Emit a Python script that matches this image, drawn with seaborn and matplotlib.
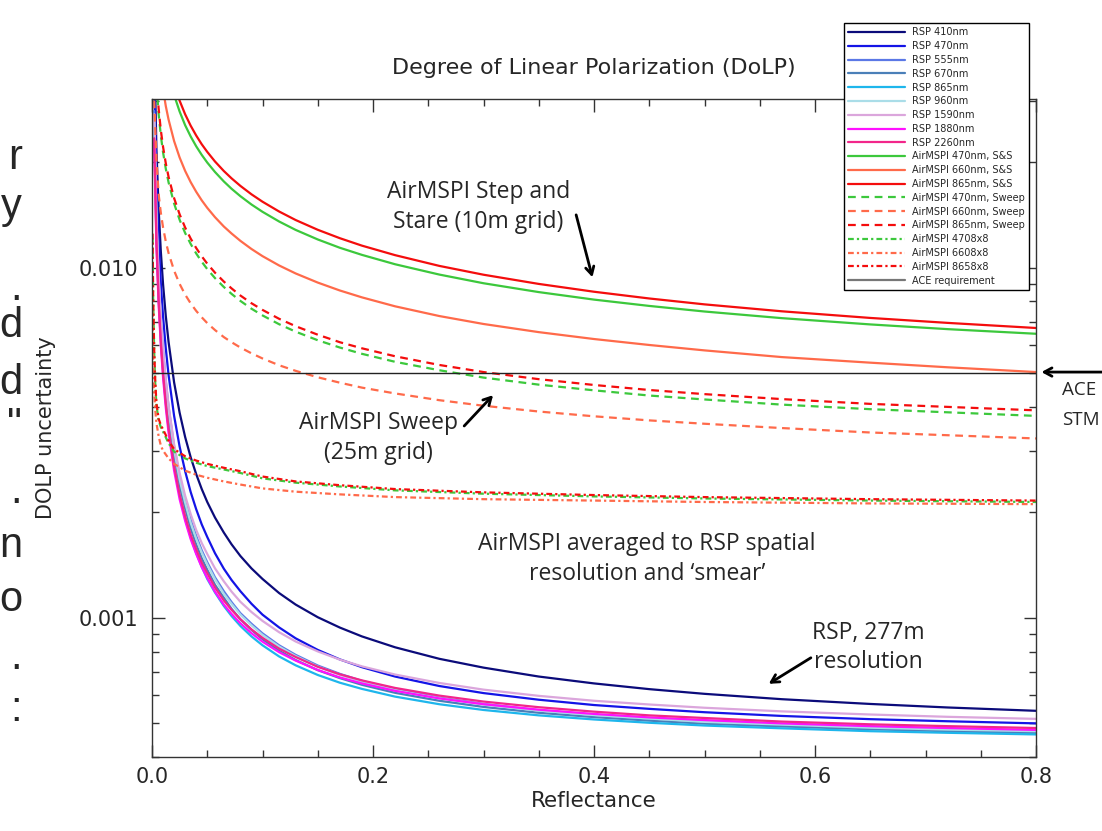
import matplotlib
matplotlib.use("Agg")
import matplotlib.pyplot as plt
import pandas as pd
import seaborn as sns
from matplotlib.ticker import LogLocator, MultipleLocator, NullFormatter

# %% data
# reflectance grid shared by the RSP and the single-pixel AirMSPI curves
reflectance = [0.002, 0.004, 0.006, 0.008, 0.01, 0.0125, 0.015, 0.02, 0.025, 0.03,
               0.035, 0.04, 0.045, 0.05, 0.057, 0.065, 0.072, 0.08, 0.09, 0.1,
               0.115, 0.13, 0.15, 0.17, 0.19, 0.22, 0.26, 0.3, 0.35, 0.4,
               0.45, 0.5, 0.57, 0.65, 0.72, 0.8]
# denser grid near zero for the 8x8 averaged AirMSPI curves
reflectance_avg = [0.0005, 0.001, 0.002, 0.003, 0.004, 0.006, 0.008, 0.01, 0.015, 0.02,
                   0.03, 0.04, 0.05, 0.065, 0.08, 0.1, 0.13, 0.17, 0.22, 0.3, 0.4, 0.5, 0.65, 0.8]

rsp_410 = [0.0431, 0.0218, 0.0147, 0.0111, 0.00897, 0.00726, 0.00613, 0.0047, 0.00385, 0.00328,
           0.002873, 0.00257, 0.002331, 0.00214, 0.001932, 0.00175, 0.00162, 0.0015, 0.001383, 0.00129,
           0.001176, 0.00109, 0.001003, 0.000937, 0.000884, 0.000823, 0.000763, 0.00072, 0.000679, 0.000649,
           0.000625, 0.000606, 0.000585, 0.000567, 0.000554, 0.000542]
rsp_470 = [0.0353, 0.0178, 0.0119, 0.00901, 0.00726, 0.00587, 0.00493, 0.00377, 0.00308, 0.00262,
           0.002285, 0.00204, 0.001847, 0.0017, 0.001528, 0.00138, 0.001281, 0.00119, 0.001096, 0.00102,
           0.000938, 0.000873, 0.000809, 0.00076, 0.000722, 0.000679, 0.000638, 0.000609, 0.000583, 0.000563,
           0.000549, 0.000537, 0.000524, 0.000513, 0.000506, 0.000499]
rsp_555 = [0.028, 0.01415, 0.00954, 0.00723, 0.00585, 0.00474, 0.004, 0.00308, 0.00253, 0.00217,
           0.001904, 0.00171, 0.001558, 0.00144, 0.001304, 0.00119, 0.001108, 0.00103, 0.000961, 0.000902,
           0.000834, 0.000783, 0.00073, 0.000691, 0.00066, 0.000625, 0.000591, 0.000567, 0.000544, 0.000528,
           0.000515, 0.000505, 0.000494, 0.000485, 0.000478, 0.000472]
rsp_670 = [0.0262, 0.0132, 0.0089, 0.00677, 0.00548, 0.00445, 0.00376, 0.0029, 0.00238, 0.00205,
           0.0018, 0.00162, 0.001478, 0.00137, 0.001242, 0.00114, 0.00106, 0.000989, 0.000923, 0.000868,
           0.000805, 0.000757, 0.000708, 0.000672, 0.000643, 0.00061, 0.000579, 0.000556, 0.000535, 0.00052,
           0.000508, 0.000498, 0.000489, 0.00048, 0.000474, 0.000468]
rsp_865 = [0.0243, 0.0123, 0.0083, 0.0063, 0.00511, 0.00415, 0.00351, 0.00272, 0.00224, 0.00192,
           0.001697, 0.00153, 0.001398, 0.00129, 0.00118, 0.00108, 0.001011, 0.000947, 0.000884, 0.000834,
           0.000775, 0.000731, 0.000686, 0.000652, 0.000626, 0.000595, 0.000566, 0.000545, 0.000526, 0.000512,
           0.000501, 0.000492, 0.000483, 0.000474, 0.000469, 0.000464]
rsp_960 = [0.0272, 0.0138, 0.0093, 0.00706, 0.00572, 0.00464, 0.00392, 0.00302, 0.00248, 0.00213,
           0.001866, 0.00168, 0.001535, 0.00142, 0.001287, 0.00117, 0.001095, 0.00102, 0.000951, 0.000893,
           0.000827, 0.000777, 0.000725, 0.000687, 0.000657, 0.000622, 0.000589, 0.000565, 0.000543, 0.000527,
           0.000515, 0.000504, 0.000495, 0.000485, 0.000479, 0.000474]
rsp_1590 = [0.0274, 0.01391, 0.00942, 0.00717, 0.00582, 0.00475, 0.00403, 0.00313, 0.00259, 0.00223,
            0.001976, 0.00178, 0.001634, 0.00152, 0.001383, 0.00127, 0.001187, 0.00111, 0.001038, 0.000979,
            0.000909, 0.000855, 0.000801, 0.000759, 0.000726, 0.000688, 0.000651, 0.000623, 0.000598, 0.000579,
            0.000565, 0.000553, 0.00054, 0.000529, 0.000521, 0.000514]
rsp_1880 = [0.02275, 0.01157, 0.00784, 0.00598, 0.00486, 0.00397, 0.00337, 0.00263, 0.00218, 0.00189,
            0.001676, 0.00152, 0.001394, 0.0013, 0.001187, 0.00109, 0.001025, 0.000964, 0.000903, 0.000854,
            0.000797, 0.000754, 0.000709, 0.000675, 0.000649, 0.000618, 0.000588, 0.000566, 0.000546, 0.000531,
            0.000519, 0.00051, 0.000499, 0.00049, 0.000484, 0.000478]
rsp_2260 = [0.0234, 0.0119, 0.00806, 0.00615, 0.005, 0.00409, 0.00347, 0.00271, 0.00225, 0.00195,
            0.001726, 0.00157, 0.001436, 0.00134, 0.00122, 0.00112, 0.001053, 0.00099, 0.000926, 0.000876,
            0.000816, 0.000772, 0.000724, 0.000689, 0.000662, 0.00063, 0.000599, 0.000576, 0.000555, 0.000539,
            0.000526, 0.000517, 0.000505, 0.000496, 0.00049, 0.000484]

ss_470 = [0.0976, 0.0691, 0.0564, 0.0489, 0.0438, 0.0392, 0.0358, 0.0311, 0.0279, 0.0255,
          0.02368, 0.0222, 0.02098, 0.01995, 0.01875, 0.01762, 0.01679, 0.01599, 0.01514, 0.01443,
          0.01354, 0.01281, 0.01203, 0.01139, 0.01087, 0.01022, 0.00955, 0.00902, 0.00851, 0.0081,
          0.00777, 0.00749, 0.00717, 0.00688, 0.00667, 0.00647]
ss_660 = [0.0719, 0.0509, 0.0416, 0.0361, 0.0323, 0.0289, 0.02646, 0.02298, 0.02062, 0.01888,
          0.01754, 0.01646, 0.01556, 0.01481, 0.01393, 0.0131, 0.01251, 0.01192, 0.0113, 0.01078,
          0.01014, 0.00962, 0.00906, 0.0086, 0.00822, 0.00775, 0.00727, 0.0069, 0.00654, 0.00625,
          0.00601, 0.0058, 0.00555, 0.00535, 0.00519, 0.00503]
ss_865 = [0.105, 0.0743, 0.0607, 0.0526, 0.0471, 0.0422, 0.0385, 0.0334, 0.02996, 0.0274,
          0.02542, 0.02383, 0.0225, 0.0214, 0.02009, 0.01887, 0.01798, 0.01711, 0.01619, 0.01542,
          0.01446, 0.01367, 0.01282, 0.01213, 0.01155, 0.01085, 0.01011, 0.00954, 0.00898, 0.00853,
          0.00816, 0.00785, 0.0075, 0.00718, 0.00695, 0.00672]

sweep_470 = [0.0474, 0.0336, 0.02745, 0.02382, 0.02135, 0.01914, 0.01751, 0.01524, 0.01369, 0.01255,
             0.01168, 0.01097, 0.01039, 0.0099, 0.00933, 0.0088, 0.00841, 0.00803, 0.00763, 0.0073,
             0.00689, 0.00656, 0.0062, 0.00591, 0.00567, 0.00538, 0.00509, 0.00485, 0.00463, 0.00446,
             0.00431, 0.0042, 0.00406, 0.00394, 0.00386, 0.00377]
sweep_660 = [0.03, 0.0205, 0.0162, 0.01432, 0.01302, 0.01186, 0.011, 0.0098, 0.00898, 0.00837,
             0.0079, 0.00752, 0.00721, 0.00694, 0.00663, 0.00633, 0.00612, 0.00591, 0.00569, 0.0055,
             0.00526, 0.00507, 0.00486, 0.00469, 0.00454, 0.00437, 0.00418, 0.00403, 0.00388, 0.00376,
             0.00366, 0.00358, 0.00348, 0.00338, 0.00332, 0.00325]
sweep_865 = [0.0491, 0.0348, 0.02845, 0.02468, 0.02212, 0.01983, 0.01815, 0.01579, 0.01419, 0.01301,
             0.0121, 0.01137, 0.01077, 0.01026, 0.00967, 0.00912, 0.00872, 0.00832, 0.00791, 0.00757,
             0.00714, 0.0068, 0.00643, 0.00612, 0.00588, 0.00558, 0.00527, 0.00503, 0.0048, 0.00462,
             0.00447, 0.00435, 0.00421, 0.00408, 0.004, 0.00391]

avg_470 = [0.0121, 0.0083, 0.0057, 0.0046, 0.00405, 0.00365, 0.0035, 0.0034, 0.00315, 0.00298,
           0.00285, 0.00277, 0.00271, 0.00265, 0.00259, 0.0025, 0.00243, 0.00237, 0.00231,
           0.00226, 0.00222, 0.00219, 0.00216, 0.00214]
avg_660 = [0.0075, 0.0055, 0.0044, 0.0039, 0.0036, 0.0033, 0.0031, 0.003, 0.00285, 0.00275,
           0.00263, 0.00256, 0.00251, 0.00245, 0.0024, 0.00234, 0.00229, 0.00225, 0.00221,
           0.00218, 0.00216, 0.00214, 0.00212, 0.00211]
avg_865 = [0.0125, 0.0085, 0.0058, 0.0047, 0.0041, 0.0037, 0.00355, 0.00345, 0.0032, 0.00303,
           0.00289, 0.00281, 0.00275, 0.00268, 0.00262, 0.00253, 0.00245, 0.00239, 0.00233,
           0.00228, 0.00224, 0.00221, 0.00218, 0.00216]

ace_requirement = 0.005

series = [
    ("RSP 410nm", reflectance, rsp_410),
    ("RSP 470nm", reflectance, rsp_470),
    ("RSP 555nm", reflectance, rsp_555),
    ("RSP 670nm", reflectance, rsp_670),
    ("RSP 865nm", reflectance, rsp_865),
    ("RSP 960nm", reflectance, rsp_960),
    ("RSP 1590nm", reflectance, rsp_1590),
    ("RSP 1880nm", reflectance, rsp_1880),
    ("RSP 2260nm", reflectance, rsp_2260),
    ("AirMSPI 470nm, S&S", reflectance, ss_470),
    ("AirMSPI 660nm, S&S", reflectance, ss_660),
    ("AirMSPI 865nm, S&S", reflectance, ss_865),
    ("AirMSPI 470nm, Sweep", reflectance, sweep_470),
    ("AirMSPI 660nm, Sweep", reflectance, sweep_660),
    ("AirMSPI 865nm, Sweep", reflectance, sweep_865),
    ("AirMSPI 4708x8", reflectance_avg, avg_470),
    ("AirMSPI 6608x8", reflectance_avg, avg_660),
    ("AirMSPI 8658x8", reflectance_avg, avg_865),
    ("ACE requirement", [0.0, reflectance[-1]], [ace_requirement, ace_requirement]),
]

rows = []
for name, xs, ys in series:
    assert len(xs) == len(ys), name
    for xv, yv in zip(xs, ys):
        rows.append((name, xv, yv))
df = pd.DataFrame(rows, columns=["series", "reflectance", "dolp"])

# %% styling
green, coral, red = "#3cc83c", "#ff6a4a", "#f40d0d"
colors = {
    "RSP 410nm": "#0b0b7a", "RSP 470nm": "#1414e6", "RSP 555nm": "#5b78e6",
    "RSP 670nm": "#4a7fb8", "RSP 865nm": "#1eb6ec", "RSP 960nm": "#aadde8",
    "RSP 1590nm": "#dba6dc", "RSP 1880nm": "#ff10ff", "RSP 2260nm": "#f2268a",
    "AirMSPI 470nm, S&S": green, "AirMSPI 660nm, S&S": coral, "AirMSPI 865nm, S&S": red,
    "AirMSPI 470nm, Sweep": green, "AirMSPI 660nm, Sweep": coral, "AirMSPI 865nm, Sweep": red,
    "AirMSPI 4708x8": green, "AirMSPI 6608x8": coral, "AirMSPI 8658x8": red,
    "ACE requirement": "#222222",
}
dashed = (0, (3.5, 2.5))
dashdot = (0, (2.6, 1.4, 1.0, 1.4))
styles = {name: "-" for name in colors}
for name in colors:
    if "Sweep" in name:
        styles[name] = dashed
    if "8x8" in name:
        styles[name] = dashdot

sns.set_style("ticks")
plt.rcParams["font.family"] = ["DejaVu Sans"]

fig = plt.figure(figsize=(11.02, 8.31), dpi=100)
ax = fig.add_axes([152 / 1102, 1 - 757 / 831, 884 / 1102, 658 / 831])

for name, _, _ in series:
    sub = df[df["series"] == name]
    sns.lineplot(data=sub, x="reflectance", y="dolp", color=colors[name],
                 linestyle=styles[name], lw=1.0 if name == "ACE requirement" else 1.6,
                 label=name, estimator=None, ax=ax)

ax.set_yscale("log")
ax.set_xlim(0, 0.8)
ax.set_ylim(0.0004, 0.0303)

ax.set_xticks([0.0, 0.2, 0.4, 0.6, 0.8])
ax.set_xticklabels(["0.0", "0.2", "0.4", "0.6", "0.8"])
ax.xaxis.set_minor_locator(MultipleLocator(0.05))
ax.set_yticks([0.001, 0.01])
ax.set_yticklabels(["0.001", "0.010"])
ax.yaxis.set_minor_locator(LogLocator(base=10, subs=range(2, 10)))
ax.yaxis.set_minor_formatter(NullFormatter())
ax.tick_params(which="both", direction="in", top=True, right=True, width=1,
               color="#333333", labelsize=15)
ax.tick_params(axis="y", pad=10)
ax.tick_params(axis="x", pad=7)
ax.tick_params(which="major", length=9)
ax.tick_params(which="minor", length=5)
for sp in ax.spines.values():
    sp.set_color("#333333")
    sp.set_linewidth(1.0)

ax.set_xlabel("Reflectance", fontsize=15.5, labelpad=3)
ax.set_ylabel("DOLP uncertainty", fontsize=15)
ax.yaxis.set_label_coords(-(152 - 56) / 884, 0.5)
fig.text(594 / 1102, 1 - 68 / 831, "Degree of Linear Polarization (DoLP)",
         ha="center", va="center", fontsize=16)

# legend, drawn over the top-right corner of the axes
handles, labels = ax.get_legend_handles_labels()
ax.get_legend().remove()
leg = fig.legend(handles, labels, loc="upper left", bbox_to_anchor=(844 / 1102, 1 - 23 / 831),
                 fontsize=7, handlelength=5.8, handletextpad=0.7, labelspacing=0.39,
                 borderpad=0.45, borderaxespad=0, fancybox=False, frameon=True,
                 edgecolor="black", framealpha=1)
leg.get_frame().set_linewidth(1.0)
leg.legend_handles[-1].set_color("#777777")
leg.legend_handles[-1].set_linewidth(1.6)

# annotations
note_font = ["Open Sans", "DejaVu Sans"]
note = dict(ha="center", va="center", fontsize=16.5, family=note_font,
            linespacing=1.3, transform=ax.transAxes)
arrow = dict(arrowstyle="->,head_length=0.55,head_width=0.3", color="black", lw=2)
ax.text(0.369, 0.836, "AirMSPI Step and\nStare (10m grid)", **note)
ax.annotate("", xy=(0.499, 0.725), xytext=(0.479, 0.828), xycoords="axes fraction",
            arrowprops=arrow)
ax.text(0.256, 0.485, "AirMSPI Sweep\n(25m grid)", **note)
ax.annotate("", xy=(0.388, 0.553), xytext=(0.351, 0.50), xycoords="axes fraction",
            arrowprops=arrow)
ax.text(0.56, 0.301, "AirMSPI averaged to RSP spatial\nresolution and \u2018smear\u2019", **note)
ax.text(0.81, 0.166, "RSP, 277m\nresolution", **note)
ax.annotate("", xy=(0.695, 0.109), xytext=(0.748, 0.153), xycoords="axes fraction",
            arrowprops=arrow)
ax.annotate("", xy=(1.003, 0.585), xytext=(1.08, 0.585), xycoords="axes fraction",
            arrowprops=arrow, annotation_clip=False)
fig.text(1062 / 1102, 1 - 390 / 831, "ACE", ha="left", va="center", fontsize=13.5,
         family=note_font)
fig.text(1062 / 1102, 1 - 420 / 831, "STM", ha="left", va="center", fontsize=13.5,
         family=note_font)

# fragments of the slide text cut off at the left edge
for ch, ypix in [("r", 158), ("y", 207), (".", 289), ("d", 326), ("d", 383), ("\"", 426),
                 (".", 492), ("n", 546), ("o", 600), (".", 658), (":", 710)]:
    fig.text(22 / 1102, 1 - ypix / 831, ch, ha="right", va="center", fontsize=30,
             family=["Liberation Sans", "DejaVu Sans"])

fig.savefig("out.png", dpi=100)
